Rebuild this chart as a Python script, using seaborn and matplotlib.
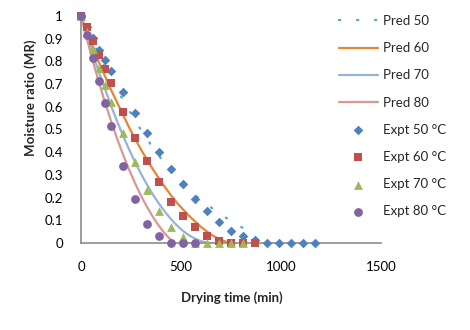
import matplotlib
matplotlib.use('Agg')
import matplotlib.pyplot as plt
import seaborn as sns

# experimental drying data (time in min, moisture ratio)
t_50 = [0, 30, 60, 90, 120, 150, 210, 270, 330, 390, 450, 510, 570, 630, 690, 750,
        810, 870, 930, 990, 1050, 1110, 1170]
mr_50 = [1, 0.95, 0.904, 0.85, 0.806, 0.758, 0.667, 0.574, 0.483, 0.40, 0.325, 0.259,
         0.194, 0.139, 0.092, 0.055, 0.03, 0.013, 0.002, 0, 0, 0, 0]

t_60 = [0, 30, 60, 90, 120, 150, 210, 270, 330, 390, 450, 510, 570, 630, 690, 750, 810, 870]
mr_60 = [1, 0.95, 0.89, 0.828, 0.765, 0.706, 0.578, 0.461, 0.36, 0.269, 0.182, 0.118,
         0.072, 0.032, 0.008, 0.002, 0, 0]

t_70 = [0, 30, 60, 90, 120, 150, 210, 270, 330, 390, 450, 510, 570, 630, 690, 750, 810]
mr_70 = [1, 0.93, 0.853, 0.77, 0.695, 0.622, 0.483, 0.356, 0.233, 0.14, 0.072, 0.025,
         0.001, 0, 0, 0, 0]

t_80 = [0, 30, 60, 90, 120, 150, 210, 270, 330, 390, 450, 510, 570]
mr_80 = [1, 0.916, 0.816, 0.715, 0.615, 0.517, 0.339, 0.192, 0.085, 0.03, 0.001, 0, 0]

# predicted curves
tp_50 = [0, 30, 60, 90, 120, 150, 180, 210, 240, 270, 300, 330, 360, 390, 420, 450,
         480, 510, 540, 570, 600, 630, 660, 690, 720, 750, 780, 810, 840, 870]
pred_50 = [1, 0.94, 0.885, 0.83, 0.776, 0.726, 0.677, 0.63, 0.585, 0.54, 0.498, 0.458,
           0.42, 0.384, 0.35, 0.318, 0.288, 0.26, 0.235, 0.212, 0.19, 0.17, 0.15,
           0.132, 0.114, 0.097, 0.081, 0.066, 0.052, 0.04]

tp_60 = [0, 30, 60, 90, 120, 150, 180, 210, 240, 270, 300, 330, 360, 390, 420, 450,
         480, 510, 540, 570, 600, 630, 660, 690, 720, 750]
pred_60 = [1, 0.93, 0.86, 0.795, 0.735, 0.675, 0.62, 0.565, 0.51, 0.46, 0.412, 0.367,
           0.324, 0.284, 0.246, 0.21, 0.177, 0.148, 0.12, 0.095, 0.071, 0.05, 0.032,
           0.018, 0.007, 0]

tp_70 = [0, 30, 60, 90, 120, 150, 180, 210, 240, 270, 300, 330, 360, 390, 420, 450,
         480, 510, 540, 570, 600, 630, 655]
pred_70 = [1, 0.912, 0.83, 0.752, 0.678, 0.605, 0.537, 0.473, 0.413, 0.357, 0.305,
           0.257, 0.213, 0.173, 0.137, 0.105, 0.077, 0.053, 0.034, 0.019, 0.008, 0.002, 0]

tp_80 = [0, 30, 60, 90, 120, 150, 180, 210, 240, 270, 300, 330, 360, 390, 420, 450, 465]
pred_80 = [1, 0.897, 0.799, 0.707, 0.619, 0.538, 0.461, 0.39, 0.324, 0.264, 0.208,
           0.159, 0.114, 0.075, 0.041, 0.013, 0]

sns.set_style('white')
plt.rcParams['font.family'] = ['Lato', 'DejaVu Sans']

fig, ax = plt.subplots(figsize=(4.7, 3.3), dpi=100)
fig.subplots_adjust(left=81/470, right=381/470, bottom=1-243/330, top=1-16/330)

sns.lineplot(x=tp_50, y=pred_50, color='#4BACC6', lw=1.6, linestyle=(0, (0.6, 7.5)),
             dash_capstyle='round', ax=ax, label='Pred 50', clip_on=False)
sns.lineplot(x=tp_60, y=pred_60, color='#E9842F', lw=1.6, ax=ax, label='Pred 60')
sns.lineplot(x=tp_70, y=pred_70, color='#95B3D7', lw=1.6, ax=ax, label='Pred 70')
sns.lineplot(x=tp_80, y=pred_80, color='#D99694', lw=1.6, ax=ax, label='Pred 80')

sns.scatterplot(x=t_50, y=mr_50, marker='D', s=24, color='#4F81BD', linewidth=0,
                ax=ax, label='Expt 50 °C', zorder=3, clip_on=False)
sns.scatterplot(x=t_60, y=mr_60, marker='s', s=38, color='#C0504D', linewidth=0,
                ax=ax, label='Expt 60 °C', zorder=3, clip_on=False)
sns.scatterplot(x=t_70, y=mr_70, marker='^', s=40, color='#9BBB59', linewidth=0,
                ax=ax, label='Expt 70 °C', zorder=3, clip_on=False)
sns.scatterplot(x=t_80, y=mr_80, marker='o', s=40, color='#8064A2', linewidth=0,
                ax=ax, label='Expt 80 °C', zorder=3, clip_on=False)

ax.set_xlim(0, 1500)
ax.set_ylim(0, 1)
ax.set_xticks([0, 500, 1000, 1500])
yt = [i / 10 for i in range(11)]
ax.set_yticks(yt)
ax.set_yticklabels([f'{v:g}' for v in yt])
ax.tick_params(axis='both', length=0, labelsize=9.5, colors='black', pad=13)

for s in ['top', 'right']:
    ax.spines[s].set_visible(False)
for s in ['left', 'bottom']:
    ax.spines[s].set_color('#8C8C8C')
    ax.spines[s].set_linewidth(1.2)

ax.set_xlabel('Drying time (min)', fontsize=9.5, fontweight='bold')
ax.set_ylabel('Moisture ratio (MR)', fontsize=9.5, fontweight='bold')
ax.xaxis.set_label_coords(0.502, -0.214)
ax.yaxis.set_label_coords(-0.147, 0.639)

handles, labels = ax.get_legend_handles_labels()
ax.legend(handles, labels, loc='upper left', bbox_to_anchor=(339/470, 1-15/330),
          bbox_transform=fig.transFigure, frameon=False, fontsize=9.5,
          handlelength=2.95, handletextpad=0.36, labelspacing=1.15,
          borderpad=0, borderaxespad=0)

fig.savefig('out.png', dpi=100)
